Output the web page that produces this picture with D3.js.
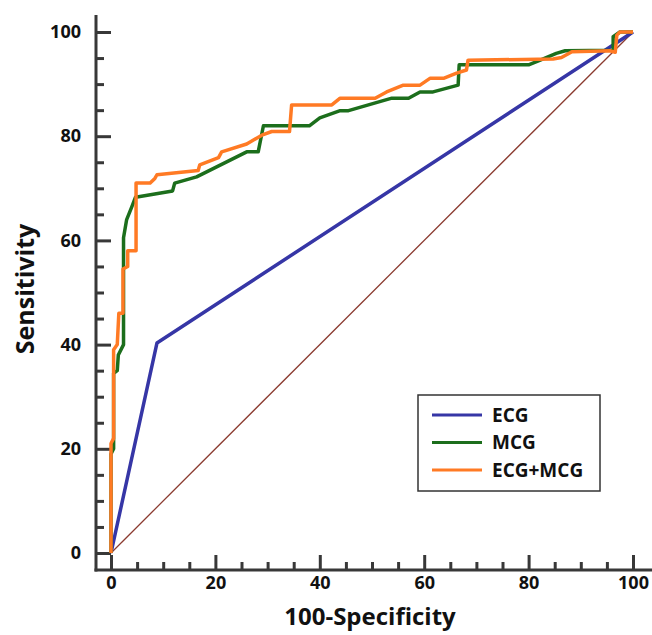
<!DOCTYPE html>
<html lang="en">
<head>
<meta charset="UTF-8">
<title>ROC curves</title>
<script src="https://cdn.jsdelivr.net/npm/d3@7"></script>
<style>
  body { margin: 0; background: #fff; }
  text { font-family: "Open Sans", sans-serif; font-weight: bold; fill: #111; }
  .tick text { font-size: 18px; }
  .curve { fill: none; stroke-linejoin: round; }
</style>
</head>
<body>
<svg width="652" height="635"></svg>
<script>
// data: [100-specificity, sensitivity]
var ecg = [[0, 0], [8.8, 40.3], [100, 100]];

var mcg = [[0, 0], [0, 19], [0.5, 20], [0.5, 34.5], [1.2, 35], [1.4, 38], [2.4, 40], [2.4, 60.5],
    [3.0, 64], [4.0, 66.5], [4.7, 68.3], [11.8, 69.5], [12.2, 71], [16.4, 72.2], [26, 77], [28.2, 77],
    [29.2, 82], [38, 82], [40, 83.5], [43.9, 84.9], [45.5, 84.9], [53.8, 87.3], [57, 87.3], [59.2, 88.5],
    [61.7, 88.5], [66.5, 89.8], [66.7, 93.7], [80, 93.7], [82, 94.5], [85.3, 95.9], [87, 96.4],
    [96.2, 96.5], [96.2, 99.1], [97.5, 100], [100, 100]];

var ecgMcg = [[0, 0], [0, 21], [0.5, 22], [0.5, 39], [1.2, 40], [1.5, 46], [2.3, 46], [2.3, 54.5],
    [3.2, 55], [3.2, 58], [4.8, 58], [4.8, 71], [7.5, 71], [8.4, 71.9], [8.8, 72.6], [16.7, 73.4],
    [17, 74.5], [20.6, 75.9], [21.2, 77], [26, 78.5], [28.9, 80.2], [30.8, 80.9], [34.2, 80.9],
    [34.6, 86], [42.3, 86], [43.9, 87.3], [50.6, 87.3], [52.8, 88.5], [56, 89.8], [59.2, 89.8],
    [61.1, 91.1], [63.7, 91.1], [66.2, 92.1], [68.1, 92.7], [68.4, 94.6], [84.7, 94.8], [86.3, 95.1],
    [88.3, 96.2], [95.6, 96.4], [96.6, 96.1], [96.9, 99.4], [97.5, 100], [100, 100]];

var diagonal = [[0, 0], [100, 100]];

var majorTicks = [0, 20, 40, 60, 80, 100];
var minorTicks = d3.range(0, 101, 5).filter(function (d) { return d % 20 !== 0; });

var seriesNames = ["ECG", "MCG", "ECG+MCG"];
var seriesColors = ["#3636a6", "#1c6e1c", "#ff7a24"];

(function () {
    var svg = d3.select("svg");
    var axisColor = "#383838";

    var x = d3.scaleLinear().domain([0, 100]).range([111, 633]);
    var y = d3.scaleLinear().domain([0, 100]).range([553, 32]);

    // y axis (ticks point inward)
    var gy = svg.append("g").attr("transform", "translate(96,0)");
    gy.call(d3.axisLeft(y).tickValues(majorTicks).tickSize(-15).tickPadding(15));
    gy.append("g").call(d3.axisLeft(y).tickValues(minorTicks).tickSize(-8).tickFormat(""));

    // x axis
    var gx = svg.append("g").attr("transform", "translate(0,570)");
    gx.call(d3.axisBottom(x).tickValues(majorTicks).tickSize(-15).tickPadding(6));
    gx.append("g").call(d3.axisBottom(x).tickValues(minorTicks).tickSize(-8).tickFormat(""));

    svg.selectAll(".domain").remove();
    svg.selectAll(".tick line").attr("stroke", axisColor).attr("stroke-width", 3);
    svg.selectAll(".tick text").attr("fill", "#111")
        .style("font-family", "'Open Sans', sans-serif").style("font-weight", "bold");

    svg.append("line").attr("x1", 96).attr("x2", 96).attr("y1", 15).attr("y2", 571.5)
        .attr("stroke", axisColor).attr("stroke-width", 3);
    svg.append("line").attr("x1", 94.5).attr("x2", 652).attr("y1", 570).attr("y2", 570)
        .attr("stroke", axisColor).attr("stroke-width", 3);

    // titles
    svg.append("text").attr("x", 370).attr("y", 625).attr("text-anchor", "middle")
        .style("font-size", "24px").text("100-Specificity");
    svg.append("text").attr("transform", "translate(34,289) rotate(-90)").attr("text-anchor", "middle")
        .style("font-size", "25px").text("Sensitivity");

    var line = d3.line().x(function (d) { return x(d[0]); }).y(function (d) { return y(d[1]); });

    svg.append("path").datum(diagonal).attr("class", "curve").attr("d", line)
        .attr("stroke", "#8b3b30").attr("stroke-width", 1.3);

    var curves = [ecg, mcg, ecgMcg];
    curves.forEach(function (c, i) {
        svg.append("path").datum(c).attr("class", "curve").attr("d", line)
            .attr("stroke", seriesColors[i]).attr("stroke-width", 3.5);
    });

    // legend
    var lg = svg.append("g").attr("transform", "translate(418,395)");
    lg.append("rect").attr("width", 182).attr("height", 96)
        .attr("fill", "#fff").attr("stroke", "#333").attr("stroke-width", 1.5);
    seriesNames.forEach(function (name, i) {
        var ly = 20 + i * 27.5;
        lg.append("line").attr("x1", 14).attr("x2", 64).attr("y1", ly).attr("y2", ly)
            .attr("stroke", seriesColors[i]).attr("stroke-width", 3);
        lg.append("text").attr("x", 74).attr("y", ly).attr("dy", "0.36em")
            .style("font-size", "19px").text(name);
    });
})();
</script>
</body>
</html>
